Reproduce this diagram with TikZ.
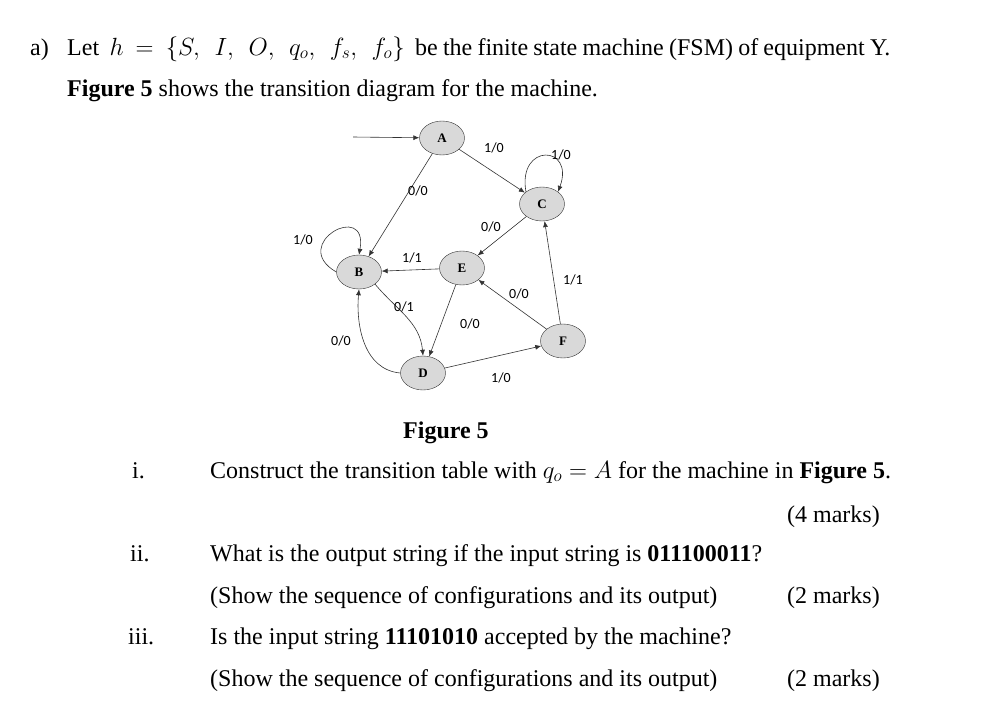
\documentclass[tikz,border=0pt]{standalone}
\usepackage{fontspec}
\setmainfont{Liberation Serif}
\newfontfamily\lblfont{Carlito}
\usetikzlibrary{arrows.meta,shapes.geometric}
\begin{document}
\begin{tikzpicture}[x=1pt,y=-1pt,
  st/.style={ellipse,draw=black!80,fill=black!15,minimum width=45pt,minimum height=34pt,inner sep=0pt,font=\fontsize{13}{13}\selectfont\bfseries},
  tr/.style={-{Latex[length=6pt,width=5pt]},draw=black!80,line width=0.6pt},
  lb/.style={font=\lblfont\fontsize{14}{14}\selectfont,inner sep=1pt},
  tx/.style={anchor=base west,inner sep=0pt,font=\fontsize{24}{28}\selectfont},
  tr2/.style={anchor=base east,inner sep=0pt,font=\fontsize{24}{28}\selectfont}]
\useasboundingbox (0,0) rectangle (996,718);
% text
\node[tx] (t1) at (30,55) {\makebox[860pt][s]{a) \hspace{8pt} Let \ $h\ =\ \{S,\ \ I,\ \ O,\ \ q_o,\ \ f_s,\ \ f_o\}$ \ be the finite state machine (FSM) of equipment Y.}};
\node[tx] (t2) at (67,96) {\textbf{Figure 5} shows the transition diagram for the machine.};
\node[tx] (cap) at (403,438) {\textbf{Figure 5}};
\node[tx] (i) at (132,478) {i.};
\node[tx] (it) at (210,478) {Construct the transition table with $q_o = A$ for the machine in \textbf{Figure 5}.};
\node[tr2] (m1) at (880,522) {(4 marks)};
\node[tx] (ii) at (130,561) {ii.};
\node[tx] (iit) at (210,561) {What is the output string if the input string is \textbf{011100011}?};
\node[tx] (iit2) at (210,603) {(Show the sequence of configurations and its output)};
\node[tr2] (m2) at (880,603) {(2 marks)};
\node[tx] (iii) at (128,644) {iii.};
\node[tx] (iiit) at (210,644) {Is the input string \textbf{11101010} accepted by the machine?};
\node[tx] (iiit2) at (210,686) {(Show the sequence of configurations and its output)};
\node[tr2] (m3) at (880,686) {(2 marks)};
% diagram
\node[st] (A) at (442,138) {A};
\node[st] (C) at (542,204) {C};
\node[st] (B) at (359,272) {B};
\node[st] (E) at (462,268) {E};
\node[st] (F) at (563,341) {F};
\node[st] (D) at (423,373) {D};
\coordinate (s) at (353,137);
\draw[tr] (s) -- (A);
\draw[tr] (A) -- (C);
\draw[tr] (A) -- (B);
\draw[tr] (C) -- (E);
\draw[tr] (E) -- (B);
\draw[tr] (E) -- (D);
\draw[tr] (F) -- (E);
\draw[tr] (F) -- (C);
\draw[tr] (D) -- (F);
\draw[tr] (B.south east) to[out=-50,in=95] (D.north);
\draw[tr] (D.west) to[out=175,in=-95] (B.south);
\draw[tr] (B.west) to[out=150,in=80,looseness=5] (B.north);
\draw[tr] (C.north west) to[out=100,in=70,looseness=4] (C.north east);
\node[lb] (l1) at (494,148) {1/0};
\node[lb] (l2) at (561,155) {1/0};
\node[lb] (l3) at (418,191) {0/0};
\node[lb] (l4) at (491,227) {0/0};
\node[lb] (l5) at (303,240) {1/0};
\node[lb] (l6) at (412,258) {1/1};
\node[lb] (l7) at (573,280) {1/1};
\node[lb] (l8) at (519,294) {0/0};
\node[lb] (l9) at (404,307) {0/1};
\node[lb] (l10) at (470,324) {0/0};
\node[lb] (l11) at (341,341) {0/0};
\node[lb] (l12) at (501,378) {1/0};
\end{tikzpicture}
\end{document}
